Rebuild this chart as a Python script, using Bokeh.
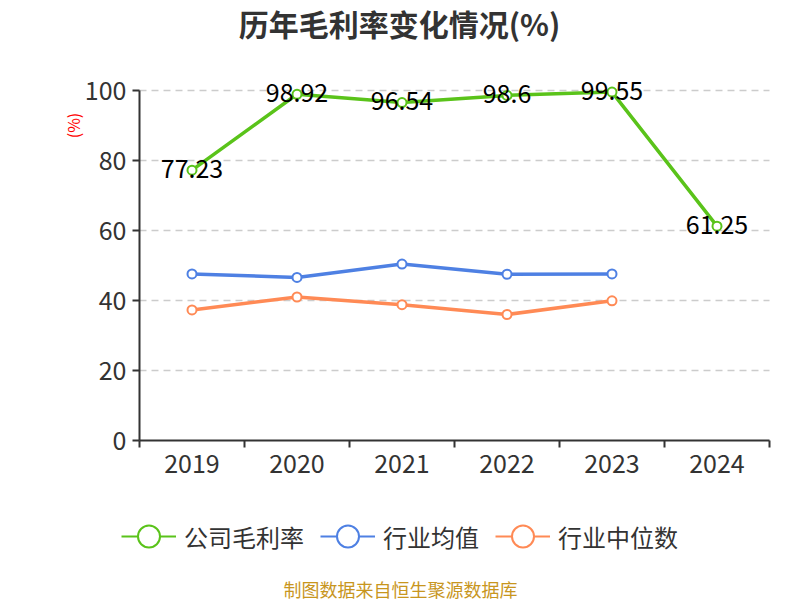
from bokeh.plotting import figure
from bokeh.models import (FixedTicker, Range1d, Legend, LegendItem, Label,
                          LinearAxis, Grid, ColumnDataSource)
from bokeh.core.properties import value
from bokeh.embed import file_html
from bokeh.resources import INLINE
import math

years = ["2019", "2020", "2021", "2022", "2023", "2024"]
company = [77.23, 98.92, 96.54, 98.6, 99.55, 61.25]
industry_avg = [47.6, 46.6, 50.4, 47.5, 47.6]
industry_med = [37.3, 41.0, 38.8, 36.0, 39.9]
y_ticks = [0, 20, 40, 60, 80, 100]

GREEN = "#5ac31a"
BLUE = "#4e80e3"
ORANGE = "#ff8a55"
FONT = "Noto Sans CJK SC"
W, H = 800, 600
# layout of the plotting area in canvas pixels
PX_LEFT, PX_RIGHT, PX_ZERO, PX_TOP = 139, 769, 440, 90

n = len(years)
xs = (PX_RIGHT - PX_LEFT) / n            # px per category
ys = (PX_ZERO - PX_TOP) / max(y_ticks)   # px per unit
xc = [i + 0.5 for i in range(n)]

p = figure(width=W, height=H, output_backend="svg", toolbar_location=None,
           title=None, x_axis_location=None, y_axis_location=None,
           x_range=Range1d(-PX_LEFT / xs, (W - PX_LEFT) / xs),
           y_range=Range1d(-(H - PX_ZERO) / ys, PX_ZERO / ys),
           min_border=0, min_border_left=0, min_border_right=0,
           min_border_top=0, min_border_bottom=0)
p.outline_line_color = None
for r in list(p.center):
    if isinstance(r, Grid):
        r.visible = False

# grid lines
p.segment(x0=0, x1=n, y0=y_ticks[1:], y1=y_ticks[1:], line_color="#cccccc",
          line_width=1.5, line_dash="7 5")

# axes
xaxis = LinearAxis(fixed_location=0, bounds=(0, n),
                   ticker=FixedTicker(ticks=xc, minor_ticks=list(range(n + 1))),
                   major_label_overrides={x: y for x, y in zip(xc, years)},
                   major_tick_out=0, major_tick_in=0,
                   minor_tick_out=7, minor_tick_in=0,
                   minor_tick_line_color="#333333", minor_tick_line_width=2,
                   axis_line_color="#333333", axis_line_width=2,
                   major_label_text_font=FONT, major_label_text_font_size="25px",
                   major_label_text_color="#333333", major_label_standoff=6)
p.add_layout(xaxis, "below")

yaxis = LinearAxis(fixed_location=0, bounds=(0, max(y_ticks)),
                   ticker=FixedTicker(ticks=y_ticks),
                   minor_tick_line_color=None,
                   major_tick_out=7, major_tick_in=0,
                   major_tick_line_color="#333333", major_tick_line_width=2,
                   axis_line_color="#333333", axis_line_width=2,
                   major_label_text_font=FONT, major_label_text_font_size="25px",
                   major_label_text_color="#333333", major_label_standoff=6)
p.add_layout(yaxis, "left")

series = [
    ("公司毛利率", company, GREEN),
    ("行业均值", industry_avg, BLUE),
    ("行业中位数", industry_med, ORANGE),
]

items = []
for name, vals, col in series:
    src = ColumnDataSource(dict(x=xc[:len(vals)], y=vals))
    p.line("x", "y", source=src, line_color=col, line_width=3.5)
    p.scatter("x", "y", source=src, size=9, fill_color="white",
              line_color=col, line_width=2)
    lr = p.line([math.nan], [math.nan], line_color=col, line_width=2)
    sr = p.scatter([math.nan], [math.nan], size=22, fill_color="white",
                   line_color=col, line_width=2)
    items.append(LegendItem(label=name, renderers=[lr, sr]))

# data labels for company
lab_src = ColumnDataSource(dict(x=xc, y=company, t=[f"{v:g}" for v in company]))
p.text("x", "y", text="t", source=lab_src, text_align="center",
       text_baseline="middle", text_font_size="25px", text_color="#000000",
       y_offset=-2, text_font=value(FONT))

legend = Legend(items=items, orientation="horizontal", location=(121, 36),
                label_text_font=FONT, label_text_font_size="24px",
                label_text_color="#333333", glyph_width=55, glyph_height=56,
                spacing=16, label_standoff=8, border_line_color=None,
                background_fill_alpha=0, padding=0, margin=0)
p.add_layout(legend, "center")


def px_to_x(px):
    return (px - PX_LEFT) / xs


def px_to_y(py):
    return (PX_ZERO - py) / ys


p.add_layout(Label(x=px_to_x(399), y=px_to_y(22), text="历年毛利率变化情况(%)",
                   text_align="center", text_baseline="middle",
                   text_font=FONT, text_font_size="30px",
                   text_font_style="bold", text_color="#333333"))
p.add_layout(Label(x=px_to_x(72), y=px_to_y(125), text="(%)", angle=math.pi / 2,
                   text_align="center", text_baseline="middle",
                   text_font=FONT, text_font_size="16px", text_color="red"))
p.add_layout(Label(x=px_to_x(400), y=px_to_y(588), text="制图数据来自恒生聚源数据库",
                   text_align="center", text_baseline="middle",
                   text_font=FONT, text_font_size="18px", text_color="#c8961e"))

open("out.html", "w").write(file_html(p, INLINE))
